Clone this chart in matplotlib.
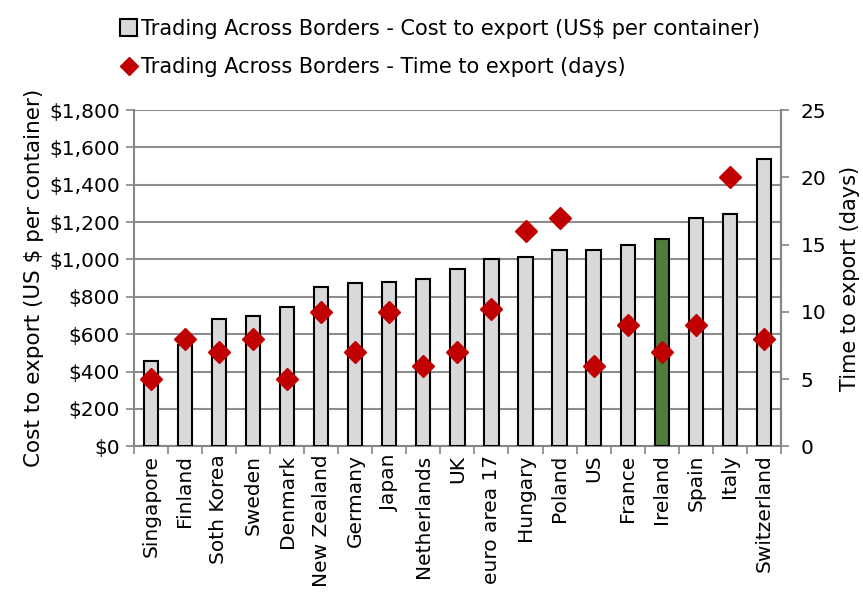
import matplotlib
matplotlib.use("Agg")
import matplotlib.pyplot as plt
import numpy as np

countries = ["Singapore", "Finland", "Soth Korea", "Sweden", "Denmark", "New Zealand",
             "Germany", "Japan", "Netherlands", "UK", "euro area 17", "Hungary",
             "Poland", "US", "France", "Ireland", "Spain", "Italy", "Switzerland"]
cost = [455, 541, 681, 697, 744, 854, 873, 881, 896, 949, 1003, 1015,
        1050, 1050, 1078, 1109, 1222, 1245, 1539]
days = [5, 8, 7, 8, 5, 10, 7, 10, 6, 7, 10.2, 16, 17, 6, 9, 7, 9, 20, 8]

plt.rcParams['font.family'] = ['DejaVu Sans']
plt.rcParams['font.size'] = 14.5

fig = plt.figure(figsize=(8.63, 5.95), dpi=100)
ax = fig.add_axes([0.155, 0.25, 0.75, 0.565])
ax2 = ax.twinx()

x = np.arange(len(countries))
colors = ['#d9d9d9'] * len(countries)
colors[countries.index("Ireland")] = '#4f7b3c'
bars = ax.bar(x, cost, width=0.42, color=colors, edgecolor='black', linewidth=1.5,
              zorder=3, label='Trading Across Borders - Cost to export (US$ per container)')
pts, = ax2.plot(x, days, linestyle='none', marker='D', markersize=11, color='#c00000',
                zorder=4, label='Trading Across Borders - Time to export (days)')

ax.set_xlim(-0.5, len(countries) - 0.5)
ax.set_ylim(0, 1800)
ax.set_yticks(range(0, 1801, 200))
ax.set_yticklabels(['${:,}'.format(v) for v in range(0, 1801, 200)])
ax2.set_ylim(0, 25)
ax2.set_yticks(range(0, 26, 5))

ax.grid(axis='y', color='#8c8c8c', linewidth=1.5, zorder=0)
ax.set_axisbelow(True)
ax.set_xticks(x)
ax.set_xticklabels(countries, rotation=90)
ax.set_xticks(np.arange(-0.5, len(countries)), minor=True)
ax.tick_params(axis='x', which='major', length=0, pad=6)
ax.tick_params(axis='x', which='minor', length=6, color='#868686', width=1.2)
ax.tick_params(axis='y', length=6, color='#868686', width=1.2, pad=4)
ax2.tick_params(axis='y', length=6, color='#868686', width=1.2, pad=8)

for a in (ax, ax2):
    a.spines['top'].set_visible(False)
    for s in ('left', 'right', 'bottom'):
        a.spines[s].set_color('#868686')
        a.spines[s].set_linewidth(1.5)
ax2.spines['left'].set_visible(False)
ax2.spines['bottom'].set_visible(False)

ax.set_ylabel('Cost to export (US $ per container)', labelpad=4, fontsize=15.5)
ax2.set_ylabel('Time to export (days)', labelpad=10, fontsize=15)

fig.legend(handles=[bars, pts], loc='upper center', bbox_to_anchor=(0.51, 1.0),
           frameon=False, handlelength=0.8, handleheight=0.9, handletextpad=0.2,
           labelspacing=0.9, markerscale=0.85, fontsize=15)

fig.savefig('out.png', dpi=100)
